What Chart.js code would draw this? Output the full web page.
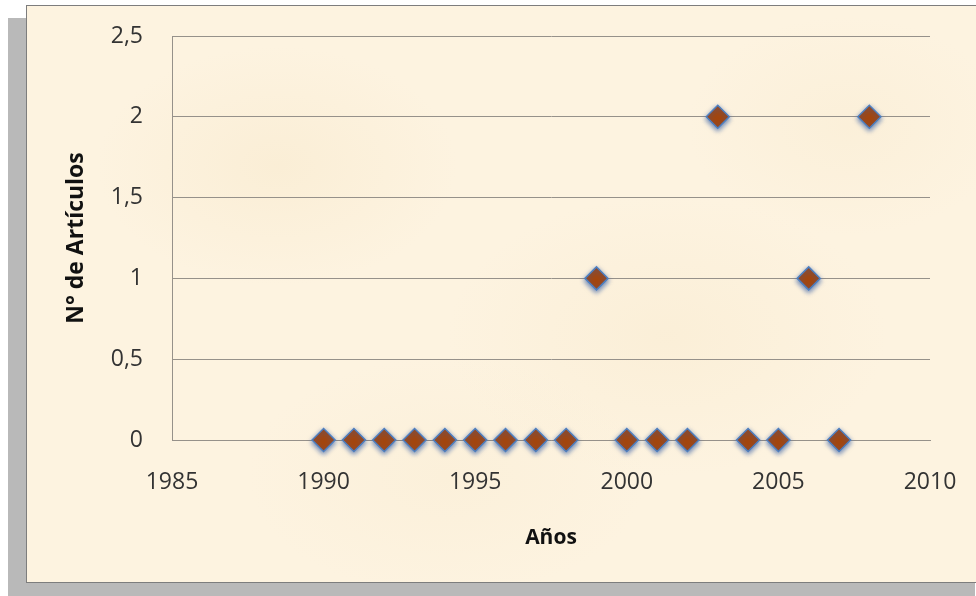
<!DOCTYPE html>
<html>
<head>
<meta charset="utf-8">
<script src="https://cdn.jsdelivr.net/npm/chart.js@4/dist/chart.umd.min.js"></script>
<style>
  html, body { margin: 0; padding: 0; background: #fff; }
  body { width: 976px; height: 596px; position: relative; overflow: hidden; }
  .card {
    position: absolute; left: 26px; top: 5px; width: 965px; height: 576px;
    border: 1px solid #7d7d7d;
    box-shadow: -18px 13px 0 #b9b9b9;
    background:
      radial-gradient(ellipse 180px 120px at 250px 160px, rgba(244,226,190,0.30), transparent),
      radial-gradient(ellipse 220px 140px at 640px 330px, rgba(244,226,190,0.25), transparent),
      radial-gradient(ellipse 160px 110px at 820px 120px, rgba(245,229,196,0.25), transparent),
      radial-gradient(ellipse 200px 120px at 420px 470px, rgba(245,229,196,0.22), transparent),
      #fdf3e0;
  }
  #chart { position: absolute; left: 0; top: 0; }
</style>
</head>
<body>
<div class="card"></div>
<canvas id="chart" width="976" height="596"></canvas>
<script>
// Datos: número de artículos por año
const years = [1990, 1991, 1992, 1993, 1994, 1995, 1996, 1997, 1998, 1999,
               2000, 2001, 2002, 2003, 2004, 2005, 2006, 2007, 2008];
const articulos = [0, 0, 0, 0, 0, 0, 0, 0, 0, 1,
                   0, 0, 0, 2, 0, 0, 1, 0, 2];

const xRange = [1985, 2010];
const yRange = [0, 2.5];

const FONT = "'Open Sans', 'Noto Sans', sans-serif";
const LINE = '#96918a';

// halo azul alrededor de los rombos
const markerGlow = {
  id: 'markerGlow',
  beforeDatasetsDraw(chart) {
    const ctx = chart.ctx;
    ctx.save();
    ctx.shadowColor = 'rgba(55,95,165,0.75)';
    ctx.shadowBlur = 5;
    ctx.shadowOffsetY = 2;
  },
  afterDatasetsDraw(chart) {
    chart.ctx.restore();
  },
};

new Chart(document.getElementById('chart'), {
  type: 'scatter',
  data: {
    datasets: [{
      label: 'N° de Artículos',
      data: years.map((y, i) => ({ x: y, y: articulos[i] })),
      pointStyle: 'rectRot',
      pointRadius: 11.5,
      pointHoverRadius: 11.5,
      backgroundColor: '#a3460f',
      borderColor: '#4d7fc0',
      borderWidth: 1.5,
      clip: false,
    }],
  },
  options: {
    responsive: false,
    animation: false,
    layout: { padding: { left: 0, top: 36, right: 46, bottom: 0 } },
    plugins: { legend: { display: false }, tooltip: { enabled: false } },
    scales: {
      x: {
        type: 'linear',
        min: xRange[0], max: xRange[1],
        afterFit: s => { s.height = 156; },
        // marcas invisibles: sólo separan las etiquetas del eje
        grid: { display: true, drawOnChartArea: false, drawTicks: true, tickLength: 29, tickColor: 'rgba(0,0,0,0)' },
        border: { display: true, color: LINE, width: 1 },
        ticks: { stepSize: 5, padding: 0, color: '#333', font: { family: FONT, size: 23 },
                 callback: v => String(v) },
        title: { display: true, text: 'Años', color: '#111', padding: { bottom: 45 },
                 font: { family: FONT, size: 21, weight: 'bold' } },
      },
      y: {
        min: yRange[0], max: yRange[1],
        afterFit: s => { s.width = 172; },
        grid: { color: LINE, lineWidth: 1, drawTicks: true, tickLength: 29, tickColor: 'rgba(0,0,0,0)' },
        border: { display: true, color: LINE, width: 1 },
        ticks: { stepSize: 0.5, padding: 0, color: '#333', font: { family: FONT, size: 23 },
                 callback: v => String(v).replace('.', ',') },
        title: { display: true, text: 'N° de Artículos', color: '#111', padding: { top: 63 },
                 font: { family: FONT, size: 23, weight: 'bold' } },
      },
    },
  },
  plugins: [markerGlow],
});
</script>
</body>
</html>
